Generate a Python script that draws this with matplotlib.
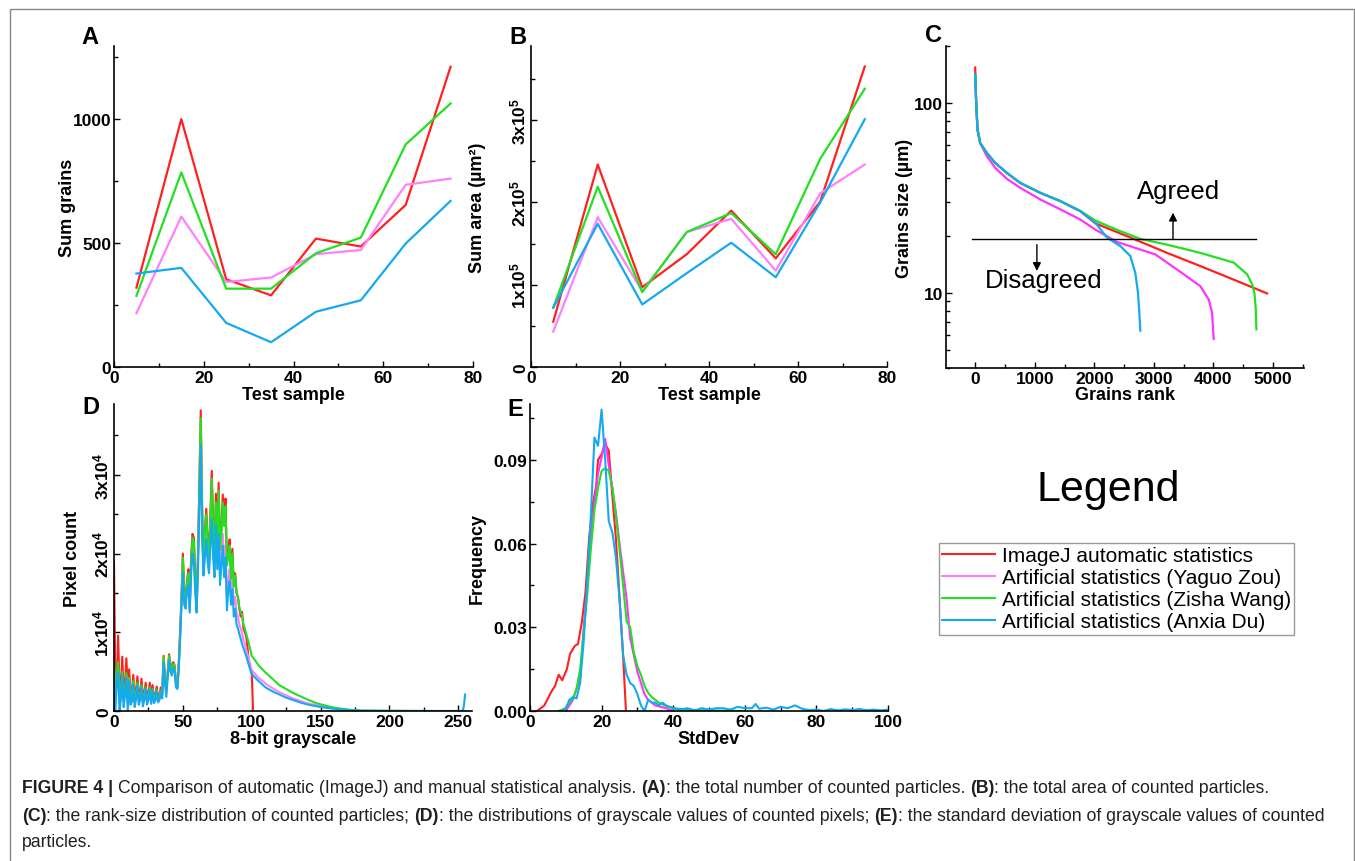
import matplotlib
matplotlib.use("Agg")
import matplotlib.pyplot as plt
from matplotlib.lines import Line2D
from matplotlib.patches import Rectangle
from matplotlib.ticker import MultipleLocator, FixedLocator, LogLocator, NullFormatter

plt.rcParams['font.family'] = ['Liberation Sans', 'DejaVu Sans']
plt.rcParams['font.weight'] = 'bold'
plt.rcParams['axes.labelweight'] = 'bold'
plt.rcParams['mathtext.fontset'] = 'custom'
plt.rcParams['mathtext.rm'] = 'Liberation Sans:bold'
plt.rcParams['mathtext.it'] = 'Liberation Sans:bold'
plt.rcParams['mathtext.bf'] = 'Liberation Sans:bold'

#==========================================================
#   DATA
#==========================================================
names = ['ImageJ automatic statistics', 'Artificial statistics (Yaguo Zou)',
         'Artificial statistics (Zisha Wang)', 'Artificial statistics (Anxia Du)']
colors = ['#ff2020', '#ff80ff', '#22e022', '#15a9f0']
colors_dark = ['#ff2020', '#ff33ff', '#22e022', '#15a9f0']

#A: sum grains per test sample
samples = [5, 15, 25, 35, 45, 55, 65, 75]
a_red = [320, 1000, 354, 289, 518, 486, 654, 1211]
a_pink = [217, 607, 343, 361, 455, 472, 735, 760]
a_green = [287, 785, 316, 316, 459, 522, 898, 1063]
a_blue = [377, 400, 178, 100, 223, 269, 498, 670]

#B: sum area (x1e5 um^2)
b_red = [0.55, 2.46, 0.97, 1.37, 1.90, 1.32, 2.01, 3.65]
b_pink = [0.43, 1.82, 0.92, 1.64, 1.80, 1.17, 2.11, 2.46]
b_green = [0.72, 2.19, 0.91, 1.64, 1.87, 1.37, 2.53, 3.38]
b_blue = [0.72, 1.74, 0.76, 1.14, 1.51, 1.09, 2.00, 3.01]

#C: rank-size
c_rank_red = [0, 17, 39, 84, 196, 336, 532, 756, 1092, 1428, 1764, 2016, 2660, 3220, 3780, 4340, 4900]
c_size_red = [154, 100, 72.4, 61.5, 54.5, 48.3, 42.8, 37.9, 33.6, 30.4, 26.9, 23.2, 19.2, 16.2, 13.8, 11.7, 9.9]
c_rank_pink = [0, 17, 39, 84, 196, 336, 532, 756, 1092, 1428, 1764, 2016, 2380, 3024, 3500, 3780, 3920, 3976, 4004]
c_size_pink = [141, 100, 72.4, 61.5, 52.4, 45.5, 39.8, 35.7, 31.0, 27.5, 24.3, 21.5, 18.5, 15.9, 12.5, 10.8, 9.2, 7.85, 5.7]
c_rank_green = [0, 17, 39, 84, 196, 336, 532, 756, 1092, 1428, 1764, 2016, 2400, 2772, 3220, 3780, 4340, 4564, 4648, 4687, 4710, 4721]
c_size_green = [141, 100, 72.4, 61.5, 54.5, 48.3, 42.8, 37.9, 33.6, 30.4, 27.0, 24.0, 21.3, 19.2, 17.9, 16.2, 14.4, 12.5, 11.1, 10.0, 8.2, 6.4]
c_rank_blue = [0, 17, 39, 84, 196, 336, 532, 756, 1092, 1428, 1764, 2016, 2212, 2436, 2604, 2688, 2733, 2755, 2772]
c_size_blue = [141, 100, 72.4, 61.5, 54.5, 48.3, 42.8, 37.9, 33.6, 30.4, 26.9, 23.4, 19.5, 17.6, 15.6, 12.7, 10.0, 7.85, 6.3]
c_threshold = 19.2
c_threshold_range = [-50, 4721]

#D: grayscale histogram (x1e4 pixels), grey levels 0..100 then tail
d_gray = list(range(101))
d_red = [1.90, 0.30, 0.35, 0.96, 0.30, 0.30, 0.69, 0.25, 0.35, 0.67,
         0.25, 0.53, 0.22, 0.25, 0.46, 0.20, 0.25, 0.44, 0.20, 0.22,
         0.41, 0.18, 0.22, 0.36, 0.18, 0.22, 0.36, 0.17, 0.33, 0.18,
         0.20, 0.31, 0.17, 0.20, 0.30, 0.22, 0.70, 0.45, 0.30, 0.50,
         0.72, 0.60, 0.55, 0.62, 0.58, 0.38, 0.32, 0.60, 1.00, 1.45,
         2.00, 1.55, 1.40, 1.65, 1.80, 1.35, 1.95, 2.25, 2.20, 1.75,
         1.35, 2.00, 2.90, 3.82, 2.60, 1.80, 2.30, 2.57, 2.20, 1.95,
         2.50, 3.05, 2.40, 2.00, 2.76, 2.20, 2.90, 2.10, 2.30, 2.75,
         2.40, 2.70, 1.90, 2.00, 2.18, 1.70, 2.06, 1.60, 1.75, 1.50,
         1.45, 1.30, 1.20, 1.26, 1.05, 1.00, 0.95, 0.80, 0.60, 0.55,
         0.50]
d_pink = [0.60, 0.15, 0.40, 0.55, 0.10, 0.22, 0.45, 0.12, 0.22, 0.44,
          0.08, 0.38, 0.12, 0.15, 0.35, 0.10, 0.18, 0.33, 0.12, 0.16,
          0.31, 0.11, 0.16, 0.28, 0.12, 0.16, 0.28, 0.12, 0.26, 0.13,
          0.15, 0.25, 0.13, 0.16, 0.25, 0.19, 0.66, 0.40, 0.26, 0.46,
          0.68, 0.56, 0.52, 0.58, 0.54, 0.35, 0.30, 0.56, 0.95, 1.38,
          1.85, 1.45, 1.35, 1.55, 1.70, 1.28, 1.85, 2.10, 2.05, 1.60,
          1.28, 1.90, 2.75, 3.55, 2.40, 1.75, 2.10, 2.30, 2.00, 1.80,
          2.30, 2.60, 2.10, 1.80, 2.45, 1.95, 2.40, 1.80, 2.00, 2.25,
          1.90, 2.10, 1.45, 1.65, 1.80, 1.45, 1.70, 1.35, 1.45, 1.25,
          1.20, 1.10, 1.05, 0.98, 0.90, 0.85, 0.78, 0.72, 0.66, 0.58,
          0.52]
d_green = [0.65, 0.20, 0.45, 0.62, 0.15, 0.25, 0.50, 0.15, 0.25, 0.48,
           0.12, 0.42, 0.15, 0.18, 0.38, 0.12, 0.20, 0.36, 0.14, 0.18,
           0.33, 0.12, 0.18, 0.30, 0.13, 0.18, 0.30, 0.13, 0.28, 0.14,
           0.17, 0.27, 0.14, 0.17, 0.26, 0.20, 0.68, 0.42, 0.28, 0.48,
           0.70, 0.58, 0.53, 0.60, 0.55, 0.36, 0.30, 0.58, 0.98, 1.40,
           1.95, 1.50, 1.38, 1.60, 1.75, 1.32, 1.90, 2.20, 2.15, 1.70,
           1.32, 1.95, 2.85, 3.72, 2.55, 1.77, 2.25, 2.50, 2.15, 1.90,
           2.45, 2.95, 2.35, 1.95, 2.65, 2.15, 2.80, 2.05, 2.25, 2.65,
           2.35, 2.60, 1.85, 1.95, 2.10, 1.68, 2.00, 1.58, 1.72, 1.50,
           1.45, 1.32, 1.25, 1.22, 1.10, 1.05, 0.98, 0.92, 0.85, 0.78,
           0.70]
d_blue = [0.53, 0.00, 0.35, 0.50, 0.00, 0.15, 0.45, 0.05, 0.20, 0.42,
          0.00, 0.38, 0.08, 0.12, 0.33, 0.05, 0.15, 0.32, 0.08, 0.14,
          0.30, 0.06, 0.14, 0.28, 0.08, 0.14, 0.27, 0.09, 0.26, 0.10,
          0.13, 0.25, 0.11, 0.14, 0.24, 0.16, 0.62, 0.35, 0.18, 0.42,
          0.64, 0.50, 0.45, 0.55, 0.50, 0.30, 0.28, 0.52, 0.90, 1.35,
          1.75, 1.35, 1.30, 1.55, 1.60, 1.25, 1.75, 2.00, 1.90, 1.50,
          1.25, 1.80, 2.60, 3.38, 2.20, 1.72, 1.95, 2.18, 1.90, 1.75,
          2.10, 2.44, 1.95, 1.70, 2.36, 1.80, 2.25, 1.60, 1.85, 2.10,
          1.70, 1.95, 1.28, 1.55, 1.65, 1.35, 1.55, 1.20, 1.30, 1.10,
          1.05, 0.98, 0.92, 0.85, 0.80, 0.75, 0.70, 0.64, 0.58, 0.52,
          0.47]
d_tail_x = [101, 105, 110, 115, 120, 125, 130, 135, 140, 147, 150, 159, 165, 173, 180, 200, 230, 253, 254, 255]
d_pink_tail = [0.50, 0.42, 0.35, 0.29, 0.24, 0.20, 0.16, 0.13, 0.10, 0.075, 0.06, 0.035, 0.022, 0.01, 0.004, 0.001, 0, 0, 0, 0]
d_green_tail = [0.68, 0.58, 0.49, 0.41, 0.33, 0.28, 0.23, 0.19, 0.15, 0.10, 0.085, 0.045, 0.03, 0.012, 0.005, 0.002, 0, 0, 0, 0]
d_blue_tail = [0.45, 0.38, 0.30, 0.25, 0.21, 0.17, 0.14, 0.11, 0.085, 0.06, 0.05, 0.03, 0.018, 0.008, 0.003, 0.001, 0, 0, 0.05, 0.21]
d_red_end = [101, 0.0]

#E: standard deviation frequency
e_red_x = [2, 4, 6, 7, 8, 9, 10.3, 11.2, 12.5, 13.4, 14.5, 15.5, 16.5, 17.5, 18.5, 19, 20, 21, 22, 23, 24, 25, 26, 26.8]
e_red_y = [0, 0.002, 0.007, 0.009, 0.013, 0.011, 0.015, 0.0205, 0.0233, 0.024, 0.032, 0.0426, 0.0617, 0.0737, 0.0808,
           0.090, 0.092, 0.0957, 0.0933, 0.077, 0.0617, 0.041, 0.020, 0]
e_pink_x = [10, 12, 14, 15, 16, 17, 18, 19, 20, 21, 22, 23, 24, 25, 26, 27, 28, 29, 30, 31, 32, 33, 34, 35, 38, 40]
e_pink_y = [0, 0.004, 0.012, 0.030, 0.045, 0.062, 0.075, 0.085, 0.091, 0.0975, 0.088, 0.080, 0.071, 0.060, 0.050,
            0.040, 0.026, 0.020, 0.014, 0.010, 0.006, 0.004, 0.003, 0.002, 0.001, 0]
e_green_x = [8, 10, 11, 12, 13, 14, 15, 16, 17, 18, 19, 20, 21, 22, 23, 24, 25, 26, 27, 28, 29, 30, 31, 32, 33, 34,
             35, 36, 38, 40, 45, 50, 60]
e_green_y = [0, 0.001, 0.003, 0.0045, 0.008, 0.015, 0.028, 0.042, 0.058, 0.072, 0.080, 0.086, 0.087, 0.086, 0.080,
             0.070, 0.058, 0.045, 0.032, 0.030, 0.021, 0.016, 0.013, 0.009, 0.0065, 0.005, 0.004, 0.003, 0.0018,
             0.001, 0.0004, 0.0002, 0]
e_blue_x = [9, 10, 11, 12, 13, 14, 15, 16, 17, 18, 19, 20, 21, 22, 23, 24, 25, 26, 27, 28, 29, 30, 31, 32, 33, 34,
            35, 36, 37, 38, 40, 42, 44, 46, 48, 50, 52, 54, 56, 58, 60, 62, 63, 64, 66, 68, 70, 72, 74, 76, 78, 80,
            82, 84, 86, 88, 90, 92, 94, 96, 98, 100]
e_blue_y = [0, 0.001, 0.004, 0.005, 0.0045, 0.010, 0.025, 0.047, 0.070, 0.098, 0.095, 0.108, 0.090, 0.068, 0.064,
            0.055, 0.040, 0.020, 0.013, 0.010, 0.009, 0.006, 0.002, 0.0, 0.004, 0.003, 0.003, 0.002, 0.003, 0.002,
            0.001, 0.0005, 0.001, 0.0002, 0.001, 0.0005, 0.001, 0.001, 0.0005, 0.0015, 0.001, 0.001, 0.0025, 0.0008,
            0.0012, 0.0005, 0.0015, 0.001, 0.002, 0.0008, 0.0003, 0.0005, 0.0, 0.0007, 0.0002, 0.0006, 0.0003,
            0.0007, 0.0003, 0.0005, 0.0002, 0.0005]

#==========================================================
#   FIGURE
#==========================================================
W, H = 1355, 862
fig = plt.figure(figsize=(W/100., H/100.), dpi=100)
fig.patches.append(Rectangle((9.5/W, -0.01), (1353.5-9.5)/W, 1.01 - 9.5/H, transform=fig.transFigure,
                             fill=False, edgecolor='#888888', lw=1.0))

LW = 1.6
TICK = 12.5
LABEL = 13

def add_ax(l, r, b, t):
    return fig.add_axes([l/float(W), 1-b/float(H), (r-l)/float(W), (b-t)/float(H)])

def style(ax):
    for s in ['top', 'right']:
        ax.spines[s].set_visible(False)
    for s in ['left', 'bottom']:
        ax.spines[s].set_linewidth(1.2)
    ax.tick_params(which='both', direction='in', width=1.0, labelsize=TICK, pad=2)
    ax.tick_params(which='major', length=4)
    ax.tick_params(which='minor', length=3)

def panel_letter(x, y, s):
    fig.text(x/float(W), 1-y/float(H), s, fontsize=17, fontweight='bold', ha='center', va='center')

#---- A
axA = add_ax(114, 473, 368, 47)
for ys, c in zip([a_red, a_pink, a_green, a_blue], colors):
    axA.plot(samples, ys, color=c, lw=LW)
axA.set_xlim(0, 80)
axA.set_ylim(0, 1295)
axA.xaxis.set_major_locator(MultipleLocator(20))
axA.xaxis.set_minor_locator(MultipleLocator(10))
axA.yaxis.set_major_locator(FixedLocator([0, 500, 1000]))
axA.yaxis.set_minor_locator(MultipleLocator(250))
style(axA)
axA.set_ylabel('Sum grains', fontsize=LABEL, va='center')
axA.yaxis.set_label_coords(-0.13, 0.5)
axA.set_xlabel('Test sample', fontsize=LABEL, va='center')
axA.xaxis.set_label_coords(0.5, -0.085)
panel_letter(90, 37, 'A')

#---- B
axB = add_ax(531, 887, 368, 47)
for ys, c in zip([b_red, b_pink, b_green, b_blue], colors):
    axB.plot(samples, ys, color=c, lw=LW)
axB.set_xlim(0, 80)
axB.set_ylim(0, 3.9)
axB.xaxis.set_major_locator(MultipleLocator(20))
axB.xaxis.set_minor_locator(MultipleLocator(10))
axB.set_yticks([0, 1, 2, 3], ['0', r'$1x10^5$', r'$2x10^5$', r'$3x10^5$'], rotation=90, va='center')
axB.yaxis.set_minor_locator(MultipleLocator(0.5))
style(axB)
axB.set_ylabel('Sum area (\u00b5m\u00b2)', fontsize=LABEL, va='center')
axB.yaxis.set_label_coords(-0.15, 0.5)
axB.set_xlabel('Test sample', fontsize=LABEL, va='center')
axB.xaxis.set_label_coords(0.5, -0.085)
panel_letter(518, 37, 'B')

#---- C
axC = add_ax(946, 1304, 369, 47)
for xs, ys, c in zip([c_rank_red, c_rank_pink, c_rank_green, c_rank_blue],
                     [c_size_red, c_size_pink, c_size_green, c_size_blue], colors_dark):
    axC.plot(xs, ys, color=c, lw=LW)
axC.set_yscale('log')
axC.set_xlim(-490, 5520)
axC.set_ylim(4, 200)
axC.xaxis.set_major_locator(MultipleLocator(1000))
axC.xaxis.set_minor_locator(MultipleLocator(500))
axC.yaxis.set_major_locator(FixedLocator([10, 100]))
axC.yaxis.set_major_formatter(matplotlib.ticker.FixedFormatter(['10', '100']))
axC.yaxis.set_minor_locator(LogLocator(base=10, subs=range(2, 10)))
axC.yaxis.set_minor_formatter(NullFormatter())
style(axC)
axC.plot(c_threshold_range, [c_threshold]*2, color='black', lw=1.0)
axC.annotate('', xy=(3321, 26.4), xytext=(3321, c_threshold),
             arrowprops=dict(arrowstyle='-|>', color='black', lw=1.0, mutation_scale=12, shrinkA=0, shrinkB=0))
axC.annotate('', xy=(1036, 13.0), xytext=(1036, 17.9),
             arrowprops=dict(arrowstyle='-|>', color='black', lw=1.0, mutation_scale=12, shrinkA=0, shrinkB=0))
axC.text(3416, 34.3, 'Agreed', fontsize=18.5, fontweight='normal', ha='center', va='center')
axC.text(1148, 11.7, 'Disagreed', fontsize=18.5, fontweight='normal', ha='center', va='center')
axC.set_ylabel('Grains size (\u00b5m)', fontsize=LABEL, va='center')
axC.yaxis.set_label_coords(-0.115, 0.5)
axC.set_xlabel('Grains rank', fontsize=LABEL, va='center')
axC.xaxis.set_label_coords(0.5, -0.081)
panel_letter(933, 35, 'C')

#---- D
axD = add_ax(114, 472, 712, 405)
axD.plot(d_gray + [d_red_end[0]], d_red + [d_red_end[1]], color=colors[0], lw=1.5)
axD.plot(d_gray + d_tail_x, d_pink + d_pink_tail, color=colors[1], lw=1.5)
axD.plot(d_gray + d_tail_x, d_green + d_green_tail, color=colors[2], lw=1.5)
axD.plot(d_gray + d_tail_x, d_blue + d_blue_tail, color=colors[3], lw=1.5)
axD.set_xlim(0, 260)
axD.set_ylim(0, 3.9)
axD.xaxis.set_major_locator(MultipleLocator(50))
axD.xaxis.set_minor_locator(MultipleLocator(25))
axD.set_yticks([0, 1, 2, 3], ['0', r'$1x10^4$', r'$2x10^4$', r'$3x10^4$'], rotation=90, va='center')
axD.yaxis.set_minor_locator(MultipleLocator(0.5))
style(axD)
axD.set_ylabel('Pixel count', fontsize=LABEL, va='center')
axD.yaxis.set_label_coords(-0.115, 0.5)
axD.set_xlabel('8-bit grayscale', fontsize=LABEL, va='center')
axD.xaxis.set_label_coords(0.5, -0.091)
panel_letter(91, 408, 'D')

#---- E
axE = add_ax(530, 888, 712, 405)
for xs, ys, c in zip([e_red_x, e_pink_x, e_green_x, e_blue_x],
                     [e_red_y, e_pink_y, e_green_y, e_blue_y], colors_dark):
    axE.plot(xs, ys, color=c, lw=1.5)
axE.set_xlim(0, 100)
axE.set_ylim(0, 0.110)
axE.xaxis.set_major_locator(MultipleLocator(20))
axE.xaxis.set_minor_locator(MultipleLocator(10))
axE.set_yticks([0, 0.03, 0.06, 0.09], ['0.00', '0.03', '0.06', '0.09'])
axE.yaxis.set_minor_locator(MultipleLocator(0.015))
style(axE)
axE.set_ylabel('Frequency', fontsize=LABEL, va='center')
axE.yaxis.set_label_coords(-0.148, 0.5)
axE.set_xlabel('StdDev', fontsize=LABEL, va='center')
axE.xaxis.set_label_coords(0.5, -0.091)
panel_letter(515, 410, 'E')

#---- Legend
fig.text(1108/float(W), 1-490/float(H), 'Legend', fontsize=31, fontweight='normal', ha='center', va='center')
handles = [Line2D([], [], color=c, lw=1.5) for c in colors]
leg = fig.legend(handles, names, loc='upper left', bbox_to_anchor=(939/float(W), 1-544/float(H)),
                 borderaxespad=0, frameon=True, fancybox=False, borderpad=0.15, handlelength=2.55,
                 handletextpad=0.3, labelspacing=0.15, prop={'size': 15, 'weight': 'normal'})
leg.get_frame().set_edgecolor('#808080')
leg.get_frame().set_linewidth(1.0)

#---- Caption
renderer = fig.canvas.get_renderer()
CAP = 12.7
def text_width(s, bold):
    t = fig.text(0, 0, s, fontsize=CAP, fontweight='bold' if bold else 'normal')
    w = t.get_window_extent(renderer=renderer).width
    t.remove()
    return w
space_w = text_width('n n', False) - text_width('nn', False)

def caption_line(x, y, parts):
    for s, bold in parts:
        lead = len(s) - len(s.lstrip(' '))
        trail = len(s) - len(s.rstrip(' '))
        x += lead*space_w
        core = s.strip(' ')
        t = fig.text(x/float(W), 1-y/float(H), core, fontsize=CAP, fontweight='bold' if bold else 'normal',
                     ha='left', va='center', color='#231f20')
        x += t.get_window_extent(renderer=renderer).width + trail*space_w

caption_line(22, 789, [('FIGURE 4 |', True),
                       (' Comparison of automatic (ImageJ) and manual statistical analysis. ', False),
                       ('(A)', True), (': the total number of counted particles. ', False),
                       ('(B)', True), (': the total area of counted particles.', False)])
caption_line(22, 817, [('(C)', True), (': the rank-size distribution of counted particles; ', False),
                       ('(D)', True), (': the distributions of grayscale values of counted pixels; ', False),
                       ('(E)', True), (': the standard deviation of grayscale values of counted', False)])
caption_line(22, 843, [('particles.', False)])

fig.savefig('out.png', dpi=100)
